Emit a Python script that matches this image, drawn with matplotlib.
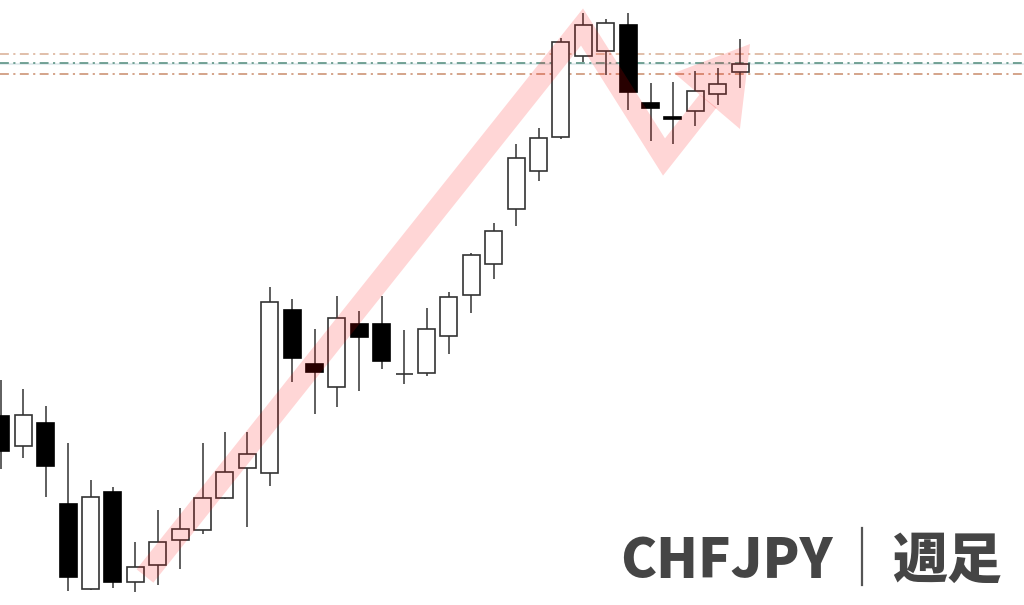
import numpy as np
import matplotlib.pyplot as plt
from matplotlib.patches import Rectangle, Polygon
from matplotlib.lines import Line2D

plt.rcParams['font.family'] = ['Noto Sans CJK JP', 'DejaVu Sans']

# weekly CHFJPY candles
opens  = [159.20, 157.70, 158.85, 154.80, 150.55, 155.40, 150.90, 151.75, 153.00, 153.50,
          155.10, 156.60, 156.35, 164.50, 161.80, 160.65, 163.80, 163.80, 161.30, 161.35,
          163.20, 165.25, 166.80, 169.55, 171.45, 173.15, 177.20, 177.45, 178.75, 174.85,
          174.15, 174.45, 175.30, 176.40]
highs  = [161.00, 160.55, 159.70, 157.85, 156.00, 155.65, 152.90, 154.50, 154.60, 157.85,
          158.40, 158.40, 165.65, 165.05, 163.55, 165.20, 164.45, 165.20, 163.50, 164.60,
          165.40, 167.35, 168.85, 172.80, 173.60, 178.10, 179.35, 179.05, 179.35, 175.85,
          175.90, 176.45, 176.60, 178.05]
lows   = [156.55, 157.10, 155.15, 150.45, 150.50, 150.60, 150.40, 150.75, 151.55, 153.30,
          155.05, 153.65, 155.70, 160.90, 159.30, 159.65, 160.45, 161.55, 160.80, 161.20,
          162.30, 164.35, 166.05, 168.70, 170.95, 173.05, 176.90, 176.25, 174.50, 172.95,
          172.80, 173.70, 174.75, 175.60]
closes = [157.45, 159.25, 156.70, 151.15, 155.15, 150.90, 151.65, 152.90, 153.55, 155.10,
          156.40, 157.30, 164.90, 162.10, 161.40, 164.10, 163.15, 161.95, 161.32, 163.55,
          165.15, 167.25, 168.45, 172.10, 173.10, 177.90, 178.75, 178.85, 175.40, 174.60,
          174.05, 175.45, 175.80, 176.80]

# horizontal reference levels
levels = [177.30, 176.875, 176.30]
level_colors = ['#d8ad93', '#4f8a7a', '#c98b6b']

# pink trend arrow (candle index, price)
arrow_x = [6.43, 25.94, 29.60, 31.57]
arrow_y = [151.20, 178.65, 172.15, 174.95]
head_x = [30.05, 33.44, 32.99]
head_y = [176.35, 177.80, 173.55]

fig = plt.figure(figsize=(10.24, 6.05), dpi=100)
ax = fig.add_axes([0, 0, 1, 1])
ax.set_xlim(-0.04, 45.67)
ax.set_ylim(149.75, 180.0)
ax.axis('off')

for lv, col in zip(levels, level_colors):
    ax.axhline(lv, color=col, lw=1.1, dashes=(5.8, 2.9, 1.4, 2.9), zorder=0.6)
ax.axhline(176.78, color='#e3ecee', lw=1.5, zorder=0.5)

w = 0.76
for i in range(len(opens)):
    o, h, l, c = opens[i], highs[i], lows[i], closes[i]
    ax.plot([i, i], [l, h], color='#333333', lw=1.1, zorder=1, solid_capstyle='butt')
    up = c >= o
    ax.add_patch(Rectangle((i - w / 2, min(o, c)), w, abs(c - o),
                           facecolor='white' if up else 'black',
                           edgecolor='#333333' if up else 'black',
                           lw=1.2, zorder=2))

ax.plot(arrow_x, arrow_y, color='red', alpha=0.16, lw=15.5,
        solid_joinstyle='miter', solid_capstyle='butt', zorder=4)
ax.add_patch(Polygon(list(zip(head_x, head_y)), closed=True,
                     facecolor='red', edgecolor='none', alpha=0.16, zorder=4))

ty = 1 - 578 / 605
fig.text(620 / 1024, ty, 'CHFJPY', fontsize=39, fontweight='heavy',
         color='#454545', ha='left', va='baseline')
fig.add_artist(Line2D([862 / 1024, 862 / 1024], [1 - 585 / 605, 1 - 528 / 605],
                      color='#555555', lw=1.6, transform=fig.transFigure))
fig.text(892 / 1024, ty, '週足', fontsize=39.5, fontweight='heavy',
         color='#454545', ha='left', va='baseline')

fig.savefig('out.png', dpi=100)
